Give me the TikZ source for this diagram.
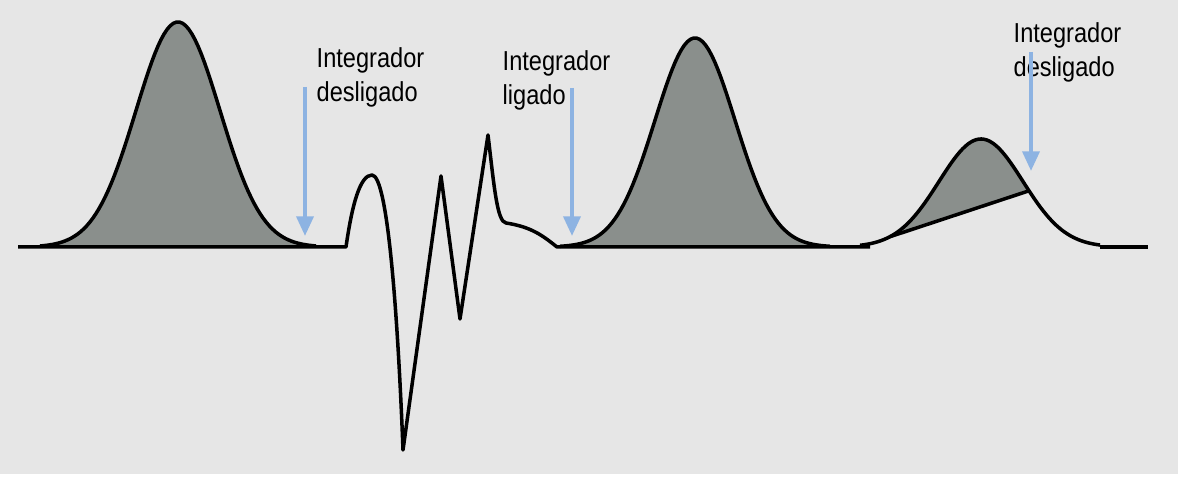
\documentclass[tikz,border=0pt]{standalone}
\usepackage{fontspec}
\setmainfont{Liberation Sans}[FakeStretch=0.86]
\usepackage{tikz}
\usetikzlibrary{arrows.meta, calc}
\definecolor{panelgray}{HTML}{E6E6E6}
\definecolor{peakgray}{HTML}{8A8F8C}
\definecolor{markblue}{HTML}{8DB3E2}
\tikzset{
  % Detector trace
  signal/.style={line width=1pt, draw=black, line join=round},
  % Integrated area
  peakfill/.style={fill=peakgray},
  % Integrator events
  marker/.style={-{Triangle[width=4.8pt, length=5.6pt]}, line width=1.15pt, draw=markblue},
  % Event labels
  evlabel/.style={anchor=base west, align=left, inner sep=0pt,
    font=\fontsize{7.8pt}{9.7pt}\selectfont},
}

\begin{document}
\begin{tikzpicture}[x=0.01cm, y=-0.01cm]
  % Panel
  \fill[panelgray] (0,0) rectangle (1178,474);
  \useasboundingbox (0,0) rectangle (1182,483);

  % First peak
  \fill[peakfill] plot[domain=40:316, samples=90]
    (\x, {247-225*exp(-((\x-178)/42)^2/2)}) -- cycle;
  \draw[signal] plot[domain=40:316, samples=90]
    (\x, {247-225*exp(-((\x-178)/42)^2/2)});

  % Second peak
  \fill[peakfill] plot[domain=560:830, samples=90]
    (\x, {247-209*exp(-((\x-695)/40)^2/2)}) -- cycle;
  \draw[signal] plot[domain=560:830, samples=90]
    (\x, {247-209*exp(-((\x-695)/40)^2/2)});

  % Third peak, cut by the drop line
  \coordinate (dropstart) at (890,236.7);
  \coordinate (dropend) at (1029,190.8);
  \fill[peakfill] plot[domain=890:1029, samples=60]
    (\x, {247-108*exp(-((\x-981)/42)^2/2)}) -- cycle;
  \draw[signal] plot[domain=860:1100, samples=90]
    (\x, {247-108*exp(-((\x-981)/42)^2/2)});
  \draw[signal] (dropstart) -- (dropend);

  % Baseline and disturbance
  \draw[signal] (18,247) -- (346,247)
    .. controls (352,205) and (360,175) .. (372,175)
    .. controls (388,175) and (398,320) .. (403,450)
    -- (441,176) -- (460,319) -- (488,135)
    .. controls (494,185) and (497,222) .. (506,223)
    .. controls (532,227) and (543,236) .. (557,247)
    -- (870,247);
  \draw[signal] (1100,247) -- (1148,247);

  % Integrator events
  \node[evlabel] (offA) at (316,102) {Integrador\\desligado};
  \node[evlabel] (onB) at (502,105) {Integrador\\ligado};
  \node[evlabel] (offC) at (1013,77) {Integrador\\desligado};

  \coordinate (offAtop) at (305,87);
  \coordinate (offAtip) at (305,236);
  \coordinate (onBtop) at (572,88);
  \coordinate (onBtip) at (572,236);
  \coordinate (offCtop) at (1031,52);
  \coordinate (offCtip) at (1031,171);
  \draw[marker] (offAtop) -- (offAtip);
  \draw[marker] (onBtop) -- (onBtip);
  \draw[marker] (offCtop) -- (offCtip);
\end{tikzpicture}
\end{document}
